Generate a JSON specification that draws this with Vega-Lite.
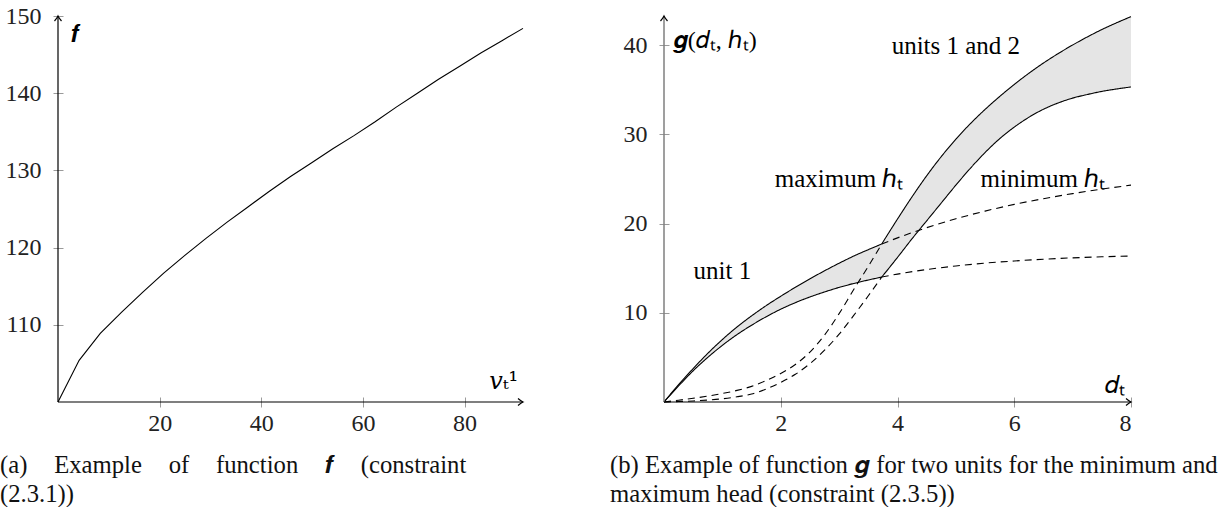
{
  "$schema": "https://vega.github.io/schema/vega-lite/v6.json",
  "background": "white",
  "padding": {"left": 0, "top": 4, "right": 0, "bottom": 0},
  "spacing": 84,
  "config": {
    "view": {"stroke": null},
    "font": "Liberation Serif",
    "axis": {"grid": false, "domain": false, "offset": -5, "tickSize": 10, "tickColor": "#9a9a9a", "tickWidth": 1, "labelFont": "Liberation Serif", "labelFontSize": 24, "labelColor": "#222222", "format": "d"},
    "axisX": {"labelPadding": 4},
    "axisY": {"labelPadding": 12},
    "title": {"font": "Liberation Serif", "fontSize": 24.7, "fontWeight": "normal", "color": "#111111", "lineHeight": 29, "orient": "bottom", "anchor": "start", "frame": "group", "offset": 18}
  },
  "datasets": {
    "f": [
      {"x": 0, "y": 100}, {"x": 4.16, "y": 105.4}, {"x": 8.32, "y": 108.9}, {"x": 12.48, "y": 111.6},
      {"x": 16.64, "y": 114.2}, {"x": 20.8, "y": 116.7}, {"x": 24.96, "y": 119.0}, {"x": 29.12, "y": 121.2},
      {"x": 33.28, "y": 123.3}, {"x": 37.44, "y": 125.3}, {"x": 41.6, "y": 127.3}, {"x": 45.76, "y": 129.2},
      {"x": 49.92, "y": 131.0}, {"x": 54.08, "y": 132.8}, {"x": 58.24, "y": 134.5}, {"x": 62.4, "y": 136.3},
      {"x": 66.56, "y": 138.2}, {"x": 70.72, "y": 140.0}, {"x": 74.88, "y": 141.8}, {"x": 79.04, "y": 143.5},
      {"x": 83.2, "y": 145.2}, {"x": 87.36, "y": 146.8}, {"x": 91.5, "y": 148.4}
    ],
    "g": [
      {"x": 0, "y": 0, "curve": "u1", "head": "max", "state": "on"},
      {"x": 0.25, "y": 1.95, "curve": "u1", "head": "max", "state": "on"},
      {"x": 0.5, "y": 3.75, "curve": "u1", "head": "max", "state": "on"},
      {"x": 0.75, "y": 5.45, "curve": "u1", "head": "max", "state": "on"},
      {"x": 1, "y": 7.0, "curve": "u1", "head": "max", "state": "on"},
      {"x": 1.25, "y": 8.4, "curve": "u1", "head": "max", "state": "on"},
      {"x": 1.5, "y": 9.65, "curve": "u1", "head": "max", "state": "on"},
      {"x": 1.75, "y": 10.8, "curve": "u1", "head": "max", "state": "on"},
      {"x": 2, "y": 11.85, "curve": "u1", "head": "max", "state": "on"},
      {"x": 2.25, "y": 12.85, "curve": "u1", "head": "max", "state": "on"},
      {"x": 2.5, "y": 13.8, "curve": "u1", "head": "max", "state": "on"},
      {"x": 2.75, "y": 14.7, "curve": "u1", "head": "max", "state": "on"},
      {"x": 3, "y": 15.55, "curve": "u1", "head": "max", "state": "on"},
      {"x": 3.25, "y": 16.35, "curve": "u1", "head": "max", "state": "on"},
      {"x": 3.5, "y": 17.07, "curve": "u1", "head": "max", "state": "on"},
      {"x": 3.73, "y": 17.7, "curve": "u1", "head": "max", "state": "on"},
      {"x": 3.73, "y": 17.7, "curve": "u1", "head": "max", "state": "off"},
      {"x": 4, "y": 18.39, "curve": "u1", "head": "max", "state": "off"},
      {"x": 4.5, "y": 19.53, "curve": "u1", "head": "max", "state": "off"},
      {"x": 5, "y": 20.53, "curve": "u1", "head": "max", "state": "off"},
      {"x": 5.5, "y": 21.39, "curve": "u1", "head": "max", "state": "off"},
      {"x": 6, "y": 22.14, "curve": "u1", "head": "max", "state": "off"},
      {"x": 6.5, "y": 22.78, "curve": "u1", "head": "max", "state": "off"},
      {"x": 7, "y": 23.35, "curve": "u1", "head": "max", "state": "off"},
      {"x": 7.5, "y": 23.85, "curve": "u1", "head": "max", "state": "off"},
      {"x": 8, "y": 24.3, "curve": "u1", "head": "max", "state": "off"},
      {"x": 0, "y": 0, "curve": "u1", "head": "min", "state": "on"},
      {"x": 0.25, "y": 1.8, "curve": "u1", "head": "min", "state": "on"},
      {"x": 0.5, "y": 3.5, "curve": "u1", "head": "min", "state": "on"},
      {"x": 0.75, "y": 5.0, "curve": "u1", "head": "min", "state": "on"},
      {"x": 1, "y": 6.35, "curve": "u1", "head": "min", "state": "on"},
      {"x": 1.25, "y": 7.55, "curve": "u1", "head": "min", "state": "on"},
      {"x": 1.5, "y": 8.6, "curve": "u1", "head": "min", "state": "on"},
      {"x": 1.75, "y": 9.55, "curve": "u1", "head": "min", "state": "on"},
      {"x": 2, "y": 10.4, "curve": "u1", "head": "min", "state": "on"},
      {"x": 2.25, "y": 11.13, "curve": "u1", "head": "min", "state": "on"},
      {"x": 2.5, "y": 11.77, "curve": "u1", "head": "min", "state": "on"},
      {"x": 2.75, "y": 12.33, "curve": "u1", "head": "min", "state": "on"},
      {"x": 3, "y": 12.84, "curve": "u1", "head": "min", "state": "on"},
      {"x": 3.25, "y": 13.28, "curve": "u1", "head": "min", "state": "on"},
      {"x": 3.5, "y": 13.67, "curve": "u1", "head": "min", "state": "on"},
      {"x": 3.73, "y": 14.0, "curve": "u1", "head": "min", "state": "on"},
      {"x": 3.73, "y": 14.0, "curve": "u1", "head": "min", "state": "off"},
      {"x": 4, "y": 14.33, "curve": "u1", "head": "min", "state": "off"},
      {"x": 4.5, "y": 14.84, "curve": "u1", "head": "min", "state": "off"},
      {"x": 5, "y": 15.24, "curve": "u1", "head": "min", "state": "off"},
      {"x": 5.5, "y": 15.56, "curve": "u1", "head": "min", "state": "off"},
      {"x": 6, "y": 15.8, "curve": "u1", "head": "min", "state": "off"},
      {"x": 6.5, "y": 16.0, "curve": "u1", "head": "min", "state": "off"},
      {"x": 7, "y": 16.15, "curve": "u1", "head": "min", "state": "off"},
      {"x": 7.5, "y": 16.27, "curve": "u1", "head": "min", "state": "off"},
      {"x": 8, "y": 16.36, "curve": "u1", "head": "min", "state": "off"},
      {"x": 0, "y": 0, "curve": "u12", "head": "max", "state": "off"},
      {"x": 0.25, "y": 0.2, "curve": "u12", "head": "max", "state": "off"},
      {"x": 0.5, "y": 0.42, "curve": "u12", "head": "max", "state": "off"},
      {"x": 0.75, "y": 0.66, "curve": "u12", "head": "max", "state": "off"},
      {"x": 1, "y": 0.95, "curve": "u12", "head": "max", "state": "off"},
      {"x": 1.25, "y": 1.3, "curve": "u12", "head": "max", "state": "off"},
      {"x": 1.5, "y": 1.75, "curve": "u12", "head": "max", "state": "off"},
      {"x": 1.75, "y": 2.4, "curve": "u12", "head": "max", "state": "off"},
      {"x": 2, "y": 3.2, "curve": "u12", "head": "max", "state": "off"},
      {"x": 2.25, "y": 4.2, "curve": "u12", "head": "max", "state": "off"},
      {"x": 2.5, "y": 5.6, "curve": "u12", "head": "max", "state": "off"},
      {"x": 2.75, "y": 7.5, "curve": "u12", "head": "max", "state": "off"},
      {"x": 3, "y": 9.9, "curve": "u12", "head": "max", "state": "off"},
      {"x": 3.25, "y": 12.6, "curve": "u12", "head": "max", "state": "off"},
      {"x": 3.5, "y": 15.2, "curve": "u12", "head": "max", "state": "off"},
      {"x": 3.73, "y": 17.7, "curve": "u12", "head": "max", "state": "off"},
      {"x": 3.73, "y": 17.7, "curve": "u12", "head": "max", "state": "on"},
      {"x": 4, "y": 20.5, "curve": "u12", "head": "max", "state": "on"},
      {"x": 4.25, "y": 23.0, "curve": "u12", "head": "max", "state": "on"},
      {"x": 4.5, "y": 25.35, "curve": "u12", "head": "max", "state": "on"},
      {"x": 4.75, "y": 27.5, "curve": "u12", "head": "max", "state": "on"},
      {"x": 5, "y": 29.45, "curve": "u12", "head": "max", "state": "on"},
      {"x": 5.25, "y": 31.2, "curve": "u12", "head": "max", "state": "on"},
      {"x": 5.5, "y": 32.78, "curve": "u12", "head": "max", "state": "on"},
      {"x": 5.75, "y": 34.23, "curve": "u12", "head": "max", "state": "on"},
      {"x": 6, "y": 35.58, "curve": "u12", "head": "max", "state": "on"},
      {"x": 6.25, "y": 36.83, "curve": "u12", "head": "max", "state": "on"},
      {"x": 6.5, "y": 37.98, "curve": "u12", "head": "max", "state": "on"},
      {"x": 6.75, "y": 39.03, "curve": "u12", "head": "max", "state": "on"},
      {"x": 7, "y": 40.0, "curve": "u12", "head": "max", "state": "on"},
      {"x": 7.25, "y": 40.9, "curve": "u12", "head": "max", "state": "on"},
      {"x": 7.5, "y": 41.73, "curve": "u12", "head": "max", "state": "on"},
      {"x": 7.75, "y": 42.48, "curve": "u12", "head": "max", "state": "on"},
      {"x": 8, "y": 43.18, "curve": "u12", "head": "max", "state": "on"},
      {"x": 0, "y": 0, "curve": "u12", "head": "min", "state": "off"},
      {"x": 0.25, "y": 0.05, "curve": "u12", "head": "min", "state": "off"},
      {"x": 0.5, "y": 0.12, "curve": "u12", "head": "min", "state": "off"},
      {"x": 0.75, "y": 0.22, "curve": "u12", "head": "min", "state": "off"},
      {"x": 1, "y": 0.36, "curve": "u12", "head": "min", "state": "off"},
      {"x": 1.25, "y": 0.58, "curve": "u12", "head": "min", "state": "off"},
      {"x": 1.5, "y": 0.9, "curve": "u12", "head": "min", "state": "off"},
      {"x": 1.75, "y": 1.45, "curve": "u12", "head": "min", "state": "off"},
      {"x": 2, "y": 2.2, "curve": "u12", "head": "min", "state": "off"},
      {"x": 2.25, "y": 3.1, "curve": "u12", "head": "min", "state": "off"},
      {"x": 2.5, "y": 4.3, "curve": "u12", "head": "min", "state": "off"},
      {"x": 2.75, "y": 5.8, "curve": "u12", "head": "min", "state": "off"},
      {"x": 3, "y": 7.6, "curve": "u12", "head": "min", "state": "off"},
      {"x": 3.25, "y": 9.7, "curve": "u12", "head": "min", "state": "off"},
      {"x": 3.5, "y": 11.9, "curve": "u12", "head": "min", "state": "off"},
      {"x": 3.73, "y": 14.0, "curve": "u12", "head": "min", "state": "off"},
      {"x": 3.73, "y": 14.0, "curve": "u12", "head": "min", "state": "on"},
      {"x": 4, "y": 16.2, "curve": "u12", "head": "min", "state": "on"},
      {"x": 4.25, "y": 18.3, "curve": "u12", "head": "min", "state": "on"},
      {"x": 4.5, "y": 20.3, "curve": "u12", "head": "min", "state": "on"},
      {"x": 4.75, "y": 22.3, "curve": "u12", "head": "min", "state": "on"},
      {"x": 5, "y": 24.3, "curve": "u12", "head": "min", "state": "on"},
      {"x": 5.25, "y": 26.2, "curve": "u12", "head": "min", "state": "on"},
      {"x": 5.5, "y": 27.95, "curve": "u12", "head": "min", "state": "on"},
      {"x": 5.75, "y": 29.5, "curve": "u12", "head": "min", "state": "on"},
      {"x": 6, "y": 30.8, "curve": "u12", "head": "min", "state": "on"},
      {"x": 6.25, "y": 31.9, "curve": "u12", "head": "min", "state": "on"},
      {"x": 6.5, "y": 32.8, "curve": "u12", "head": "min", "state": "on"},
      {"x": 6.75, "y": 33.5, "curve": "u12", "head": "min", "state": "on"},
      {"x": 7, "y": 34.05, "curve": "u12", "head": "min", "state": "on"},
      {"x": 7.25, "y": 34.45, "curve": "u12", "head": "min", "state": "on"},
      {"x": 7.5, "y": 34.8, "curve": "u12", "head": "min", "state": "on"},
      {"x": 7.75, "y": 35.07, "curve": "u12", "head": "min", "state": "on"},
      {"x": 8, "y": 35.3, "curve": "u12", "head": "min", "state": "on"}
    ],
    "gLabels": [
      {"x": 1.0, "y": 14.7, "text": "unit 1"},
      {"x": 3.0, "y": 25.0, "text": "maximum ℎₜ"},
      {"x": 6.49, "y": 25.0, "text": "minimum ℎₜ"},
      {"x": 5.0, "y": 39.9, "text": "units 1 and 2"},
      {"x": 7.73, "y": 1.9, "text": "𝑑ₜ"}
    ]
  },
  "hconcat": [
    {
      "width": 465,
      "height": 386,
      "title": {"text": ["(a)\u00a0\u00a0\u00a0\u200a Example\u00a0\u00a0\u00a0\u200a of\u00a0\u00a0\u00a0\u200a function\u00a0\u00a0\u00a0\u200a 𝒇\u00a0\u00a0\u00a0\u200a (constraint", "(2.3.1))"], "dx": -58},
      "layer": [
        {
          "data": {"name": "f"},
          "encoding": {
            "x": {"field": "x", "type": "quantitative", "title": null, "scale": {"domain": [0, 91.5], "nice": false, "zero": false}, "axis": {"values": [20, 40, 60, 80]}},
            "y": {"field": "y", "type": "quantitative", "title": null, "scale": {"domain": [100, 150], "nice": false, "zero": false}, "axis": {"values": [110, 120, 130, 140, 150], "minExtent": 58, "maxExtent": 58}}
          },
          "layer": [
            {"mark": {"type": "line", "color": "black", "strokeWidth": 1.1}},
            {"data": {"values": [{"x": 3.3, "y": 147.6, "text": "𝒇"}, {"x": 87.7, "y": 102.6, "text": "𝑣ₜ¹"}]}, "mark": {"type": "text", "fontSize": 24, "font": "DejaVu Serif", "color": "black", "align": "center", "baseline": "middle"}, "encoding": {"text": {"field": "text"}}}
          ]
        },
        {"data": {"values": [{"k": 1}]}, "mark": {"type": "rule", "color": "black", "strokeWidth": 1.2}, "encoding": {"x": {"datum": 0, "type": "quantitative"}, "y": {"datum": 100, "type": "quantitative"}, "y2": {"datum": 150}}},
        {"data": {"values": [{"k": 1}]}, "mark": {"type": "rule", "color": "black", "strokeWidth": 1.2}, "encoding": {"x": {"datum": 0, "type": "quantitative"}, "x2": {"datum": 91.5}, "y": {"datum": 100, "type": "quantitative"}}},
        {"data": {"values": [{"k": 1}]}, "mark": {"type": "point", "shape": "M -1,-0.7 Q -0.35,-0.15 0,0 Q -0.35,0.15 -1,0.7", "filled": false, "color": "black", "strokeWidth": 1.2, "size": 100, "opacity": 1}, "encoding": {"x": {"datum": 91.5, "type": "quantitative"}, "y": {"datum": 100, "type": "quantitative"}}},
        {"data": {"values": [{"k": 1}]}, "mark": {"type": "point", "shape": "M -1,-0.7 Q -0.35,-0.15 0,0 Q -0.35,0.15 -1,0.7", "filled": false, "color": "black", "strokeWidth": 1.2, "size": 100, "opacity": 1, "angle": 270}, "encoding": {"x": {"datum": 0, "type": "quantitative"}, "y": {"datum": 150, "type": "quantitative"}}}
      ]
    },
    {
      "width": 467,
      "height": 386,
      "title": {"text": ["(b) Example of function 𝒈 for two units for the minimum and", "maximum head (constraint (2.3.5))"], "dx": -54},
      "layer": [
        {
          "data": {"name": "g"},
          "encoding": {
            "x": {"field": "x", "type": "quantitative", "title": null, "scale": {"domain": [0, 8], "nice": false, "zero": false}, "axis": {"values": [2, 4, 6, 8], "format": "d"}},
            "y": {"field": "y", "type": "quantitative", "title": null, "scale": {"domain": [0, 43.25], "nice": false, "zero": false}, "axis": {"values": [10, 20, 30, 40], "format": "d", "minExtent": 54, "maxExtent": 54}}
          },
          "layer": [
            {
              "transform": [
                {"filter": "datum.state === 'on'"},
                {"pivot": "head", "value": "y", "groupby": ["x"], "op": "mean"}
              ],
              "mark": {"type": "area", "color": "#e5e5e5", "interpolate": "monotone", "opacity": 1},
              "encoding": {"y": {"field": "min", "type": "quantitative"}, "y2": {"field": "max"}}
            },
            {
              "mark": {"type": "line", "color": "black", "strokeWidth": 1.1, "interpolate": "monotone"},
              "encoding": {
                "detail": [{"field": "curve"}, {"field": "head"}],
                "strokeDash": {"field": "state", "type": "nominal", "scale": {"domain": ["on", "off"], "range": [[1, 0], [7, 5]]}, "legend": null}
              }
            },
            {"data": {"name": "gLabels"}, "mark": {"type": "text", "fontSize": 25, "font": "Liberation Serif", "color": "black", "align": "center", "baseline": "middle"}, "encoding": {"text": {"field": "text"}}},
            {"data": {"values": [{"x": 0.15, "y": 40.5, "text": "𝒈(𝑑ₜ, ℎₜ)"}]}, "mark": {"type": "text", "fontSize": 24, "font": "Liberation Serif", "color": "black", "align": "left", "baseline": "middle"}, "encoding": {"text": {"field": "text"}}}
          ]
        },
        {"data": {"values": [{"k": 1}]}, "mark": {"type": "rule", "color": "#7f7f7f", "strokeWidth": 1.5}, "encoding": {"x": {"datum": 0, "type": "quantitative"}, "y": {"datum": 0, "type": "quantitative"}, "y2": {"datum": 43.25}}},
        {"data": {"values": [{"k": 1}]}, "mark": {"type": "rule", "color": "black", "strokeWidth": 1.2}, "encoding": {"x": {"datum": 0, "type": "quantitative"}, "x2": {"datum": 8}, "y": {"datum": 0, "type": "quantitative"}}},
        {"data": {"values": [{"k": 1}]}, "mark": {"type": "point", "shape": "M -1,-0.7 Q -0.35,-0.15 0,0 Q -0.35,0.15 -1,0.7", "filled": false, "color": "black", "strokeWidth": 1.2, "size": 100, "opacity": 1}, "encoding": {"x": {"datum": 8, "type": "quantitative"}, "y": {"datum": 0, "type": "quantitative"}}},
        {"data": {"values": [{"k": 1}]}, "mark": {"type": "point", "shape": "M -1,-0.7 Q -0.35,-0.15 0,0 Q -0.35,0.15 -1,0.7", "filled": false, "color": "black", "strokeWidth": 1.2, "size": 100, "opacity": 1, "angle": 270}, "encoding": {"x": {"datum": 0, "type": "quantitative"}, "y": {"datum": 43.25, "type": "quantitative"}}}
      ]
    }
  ]
}
